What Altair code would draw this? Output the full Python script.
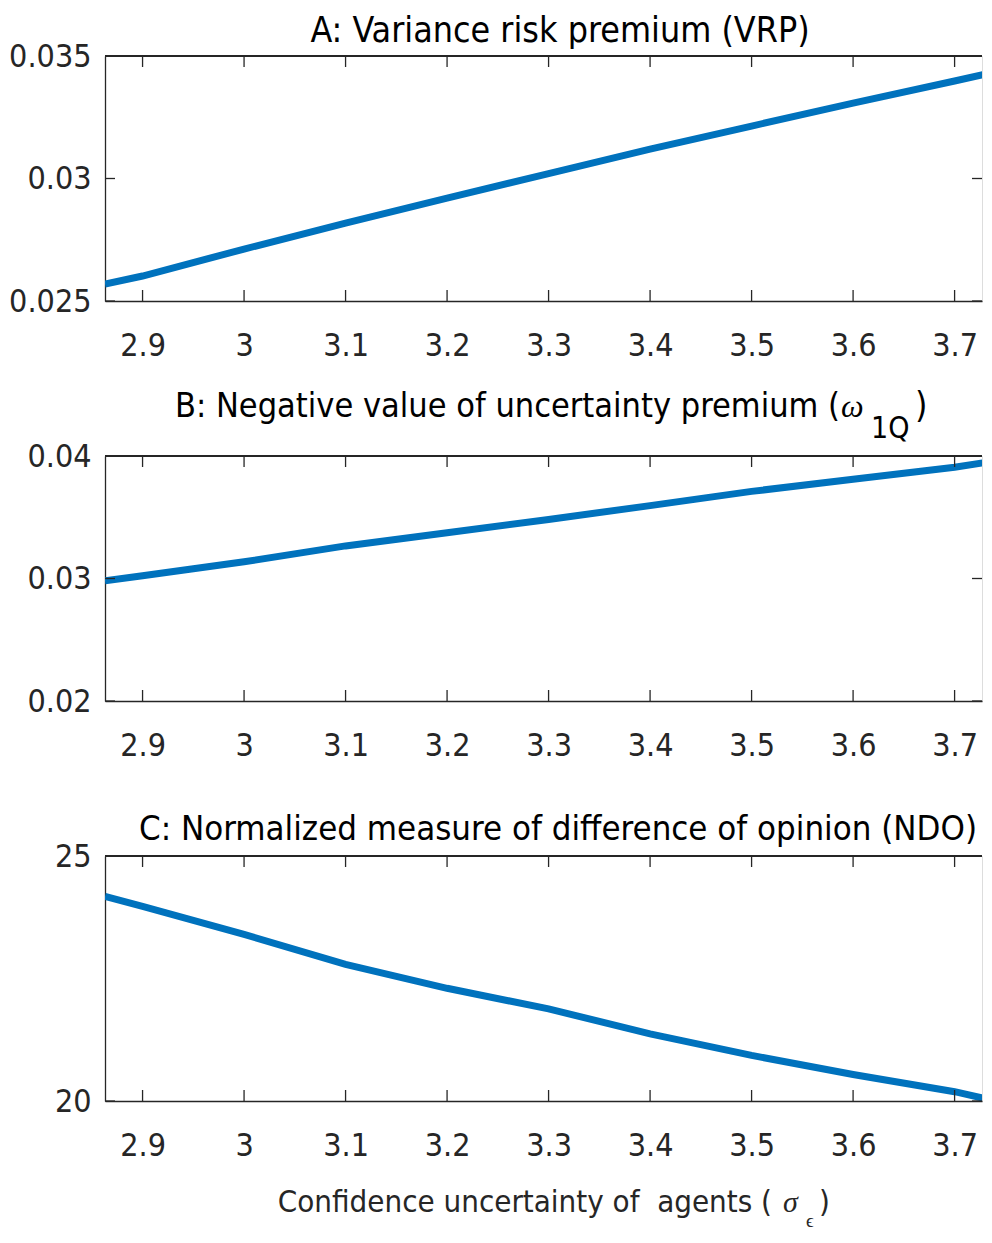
import altair as alt
import pandas as pd

# ---------------- data ----------------
sigma = [2.863, 2.9, 3.0, 3.1, 3.2, 3.3, 3.4, 3.5, 3.6, 3.7, 3.736]
vrp = [0.02569, 0.02602, 0.02712, 0.02818, 0.02920, 0.03020, 0.03120, 0.03214, 0.03308, 0.03398, 0.03431]
omega = [0.02982, 0.03023, 0.03136, 0.03266, 0.03374, 0.03482, 0.03595, 0.03711, 0.03811, 0.03908, 0.03954]
ndo = [24.175, 23.97, 23.40, 22.79, 22.30, 21.88, 21.37, 20.93, 20.54, 20.19, 20.02]

x_ticks = [2.9, 3.0, 3.1, 3.2, 3.3, 3.4, 3.5, 3.6, 3.7]
x_domain = [2.863, 3.727]

yA_ticks = [0.025, 0.03, 0.035]
yB_ticks = [0.02, 0.03, 0.04]
yC_ticks = [20, 25]

title_A = "A: Variance risk premium (VRP)"
title_B_main = "B: Negative value of uncertainty premium ("
title_B_sym = "ω"
title_B_sub = "1Q"
title_C = "C: Normalized measure of difference of opinion (NDO)"
xtitle_main = "Confidence uncertainty of\u00a0 agents ("
xtitle_sym = "σ"
xtitle_sub = "ϵ"
close_paren = ")"

# ---------------- style ----------------
FONT = "DejaVu Sans Condensed, Roboto, sans-serif"
SERIF = "Liberation Serif"
W = 877
H = 245
BLUE = "#0072BD"
AX = "#262626"
TICK_FS = 32
TITLE_FS = 35.5

df = pd.DataFrame({"x": sigma, "vrp": vrp, "omega": omega, "ndo": ndo})
xt = pd.DataFrame({"t": x_ticks})

xscale = alt.Scale(domain=x_domain, nice=False, zero=False)


def text_layer(s, x, y, size, align="left", font=FONT, italic=False, color="black"):
    kw = dict(fontSize=size, align=align, baseline="alphabetic", font=font, color=color)
    if italic:
        kw["fontStyle"] = "italic"
    return alt.Chart(pd.DataFrame({"s": [s]})).mark_text(**kw).encode(
        text="s:N", x=alt.value(x), y=alt.value(y)
    )


def panel(field, ydomain, yticks, texts):
    yscale = alt.Scale(domain=ydomain, nice=False, zero=False)
    yt = pd.DataFrame({"t": yticks})
    line = alt.Chart(df).mark_line(color=BLUE, strokeWidth=7, clip=True).encode(
        x=alt.X(
            "x:Q",
            scale=xscale,
            axis=alt.Axis(
                values=x_ticks, format="~g", ticks=False, grid=False, title=None,
                domainColor=AX, domainWidth=1.3, labelColor=AX, labelFont=FONT,
                labelFontSize=TICK_FS, labelPadding=29, labelFlush=False,
            ),
        ),
        y=alt.Y(
            f"{field}:Q",
            scale=yscale,
            axis=alt.Axis(
                values=yticks, format="~g", ticks=False, grid=False, title=None,
                domainColor=AX, domainWidth=1.3, labelColor=AX, labelFont=FONT,
                labelFontSize=TICK_FS, labelPadding=14, labelFlush=False,
                labelBaseline="middle",
            ),
        ),
    )
    top_border = alt.Chart(xt).mark_rule(color=AX, strokeWidth=1.3).encode(
        x=alt.value(0), x2=alt.value(W), y=alt.value(0)
    )
    bot_ticks = alt.Chart(xt).mark_rule(color=AX, strokeWidth=1.3).encode(
        x=alt.X("t:Q", scale=xscale), y=alt.value(H), y2=alt.value(H - 11)
    )
    top_ticks = alt.Chart(xt).mark_rule(color=AX, strokeWidth=1.3).encode(
        x=alt.X("t:Q", scale=xscale), y=alt.value(0), y2=alt.value(11)
    )
    left_ticks = alt.Chart(yt).mark_rule(color=AX, strokeWidth=1.3).encode(
        y=alt.Y("t:Q", scale=yscale), x=alt.value(0), x2=alt.value(10)
    )
    right_ticks = alt.Chart(yt).mark_rule(color=AX, strokeWidth=1.3).encode(
        y=alt.Y("t:Q", scale=yscale), x=alt.value(W), x2=alt.value(W - 10)
    )
    layers = [line, top_border, bot_ticks, top_ticks, left_ticks, right_ticks] + texts
    return alt.layer(*layers).properties(width=W, height=H)


pA = panel("vrp", [0.025, 0.035], yA_ticks,
           [text_layer(title_A, 455, -14, TITLE_FS, align="center")])
pB = panel("omega", [0.02, 0.04], yB_ticks, [
    text_layer(title_B_main, 735, -39, 34, align="right"),
    text_layer(title_B_sym, 736, -39, 32, font=SERIF, italic=True),
    text_layer(title_B_sub, 766, -18, 30),
    text_layer(close_paren, 810, -39, TITLE_FS),
])
pC = panel("ndo", [20, 25], yC_ticks, [
    text_layer(title_C, 453, -16, 34.5, align="center"),
    text_layer(xtitle_main, 667, H + 111, 31, align="right", color=AX),
    text_layer(xtitle_sym, 678, H + 111, 30, font=SERIF, italic=True, color=AX),
    text_layer(xtitle_sub, 701, H + 126, 19, font=SERIF, color=AX),
    text_layer(close_paren, 714, H + 111, 31, color=AX),
])

chart = alt.vconcat(pA, pB, pC, spacing=155, bounds="flush").properties(
    padding={"left": 0, "top": 5, "right": 0, "bottom": 0}
).configure_view(stroke="transparent").configure(background="white")

chart.save("out.html", embed_options={"renderer": "svg", "actions": False})
